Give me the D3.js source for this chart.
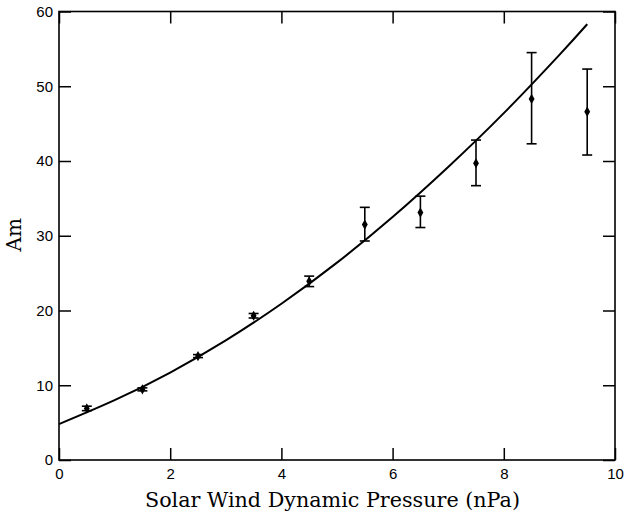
<!DOCTYPE html>
<html><head><meta charset="utf-8">
<script src="https://cdn.jsdelivr.net/npm/d3@7"></script>
<style>
html,body{margin:0;padding:0;background:#fff;}
svg{display:block;}
</style>
</head><body>
<svg id="chart" width="624" height="521"></svg>
<script>
// Data
const pressure = [0.5, 1.5, 2.5, 3.5, 4.5, 5.5, 6.5, 7.5, 8.5, 9.5];
const amMean   = [6.9, 9.45, 13.9, 19.3, 23.9, 31.5, 33.1, 39.7, 48.3, 46.6];
const amLow    = [6.6, 9.25, 13.7, 19.0, 23.2, 29.3, 31.1, 36.7, 42.3, 40.8];
const amHigh   = [7.2, 9.65, 14.1, 19.6, 24.6, 33.8, 35.3, 42.8, 54.5, 52.3];
const fitX     = [0, 1, 2, 3, 4, 5, 6, 7, 8, 9, 9.5];
const fitY     = [4.8, 8.0, 11.7, 16.0, 20.9, 26.4, 32.5, 39.2, 46.4, 54.2, 58.3];
const xTicks   = [0, 2, 4, 6, 8, 10];
const yTicks   = [0, 10, 20, 30, 40, 50, 60];

const svg = d3.select("#chart");
const L = 59, R = 615, T = 11.5, B = 460;
const x = d3.scaleLinear().domain([0, 10]).range([L, R]);
const y = d3.scaleLinear().domain([0, 60]).range([B, T]);
const tickLen = 12;
const tickFont = "'Liberation Sans', Arial, sans-serif";
const serif = "'DejaVu Serif', 'Liberation Serif', serif";

function styleAxis(g, showLabels) {
  g.select(".domain").remove();
  g.selectAll(".tick line").attr("stroke", "#000").attr("stroke-width", 1.5);
  g.selectAll(".tick text").attr("font-family", tickFont).attr("font-size", 15).attr("fill", "#000");
  if (!showLabels) g.selectAll(".tick text").remove();
}

svg.append("g").attr("transform", `translate(0,${B})`)
  .call(d3.axisBottom(x).tickValues(xTicks).tickSizeInner(-tickLen).tickSizeOuter(0).tickPadding(8).tickFormat(d3.format("d")))
  .call(g => styleAxis(g, true));
svg.append("g").attr("transform", `translate(0,${T})`)
  .call(d3.axisTop(x).tickValues(xTicks).tickSizeInner(-tickLen).tickSizeOuter(0))
  .call(g => styleAxis(g, false));
svg.append("g").attr("transform", `translate(${L},0)`)
  .call(d3.axisLeft(y).tickValues(yTicks).tickSizeInner(-tickLen).tickSizeOuter(0).tickPadding(6).tickFormat(d3.format("d")))
  .call(g => styleAxis(g, true));
svg.append("g").attr("transform", `translate(${R},0)`)
  .call(d3.axisRight(y).tickValues(yTicks).tickSizeInner(-tickLen).tickSizeOuter(0))
  .call(g => styleAxis(g, false));

// frame
svg.append("rect").attr("x", L).attr("y", T).attr("width", R - L).attr("height", B - T)
  .attr("fill", "none").attr("stroke", "#000").attr("stroke-width", 1.6);

// fit curve
const line = d3.line().x((d, i) => x(fitX[i])).y(d => y(d)).curve(d3.curveNatural);
svg.append("path").attr("d", line(fitY)).attr("fill", "none").attr("stroke", "#000").attr("stroke-width", 2);

// error bars
const capW = 5;
const eb = svg.append("g").attr("stroke", "#000").attr("stroke-width", 1.6);
pressure.forEach((p, i) => {
  const cx = x(p);
  eb.append("line").attr("x1", cx).attr("x2", cx).attr("y1", y(amLow[i])).attr("y2", y(amHigh[i]));
  eb.append("line").attr("x1", cx - capW).attr("x2", cx + capW).attr("y1", y(amLow[i])).attr("y2", y(amLow[i]));
  eb.append("line").attr("x1", cx - capW).attr("x2", cx + capW).attr("y1", y(amHigh[i])).attr("y2", y(amHigh[i]));
});
svg.append("g").selectAll("path").data(pressure).join("path")
  .attr("d", d3.symbol(d3.symbolDiamond, 30))
  .attr("transform", (d, i) => `translate(${x(d)},${y(amMean[i])})`)
  .attr("fill", "#000");

// axis titles
svg.append("text").attr("x", 332.5).attr("y", 507).attr("text-anchor", "middle")
  .attr("font-family", serif).attr("font-size", 20).attr("fill", "#000")
  .attr("textLength", 375).attr("lengthAdjust", "spacingAndGlyphs")
  .text("Solar Wind Dynamic Pressure (nPa)");
svg.append("text").attr("transform", `translate(21,${(T + B) / 2 - 1}) rotate(-90)`).attr("text-anchor", "middle")
  .attr("font-family", serif).attr("font-size", 20).attr("fill", "#000")
  .text("Am");
</script>
</body></html>
